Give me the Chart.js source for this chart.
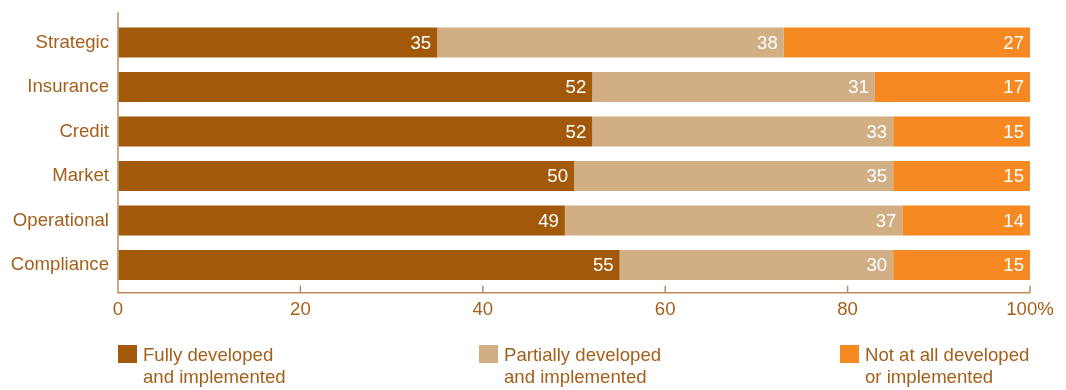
<!DOCTYPE html>
<html>
<head>
<meta charset="utf-8">
<script src="https://cdn.jsdelivr.net/npm/chart.js@4/dist/chart.umd.min.js"></script>
<style>
  body { margin: 0; background: #fff; }
  #wrap { position: relative; width: 1066px; height: 390px; }
  #legend { position: absolute; left: 0; top: 344px; width: 1066px; height: 46px; }
  .item { position: absolute; top: 0; font: 18.6px "Liberation Sans", Arial, sans-serif; line-height: 22px; color: #a4601a; }
  .box { position: absolute; left: 0; top: 1px; width: 19px; height: 18px; }
  .txt { position: absolute; left: 25px; top: 0; white-space: nowrap; }
</style>
</head>
<body>
<div id="wrap">
  <canvas id="myChart" width="1066" height="390"></canvas>
  <div id="legend"></div>
</div>
<script>
// データ
const categories = ['Strategic', 'Insurance', 'Credit', 'Market', 'Operational', 'Compliance'];
const seriesNames = [
  ['Fully developed', 'and implemented'],
  ['Partially developed', 'and implemented'],
  ['Not at all developed', 'or implemented']
];
const fully = [35, 52, 52, 50, 49, 55];
const partially = [38, 31, 33, 35, 37, 30];
const notAtAll = [27, 17, 15, 15, 14, 15];
const tickLabels = ['0', '20', '40', '60', '80', '100%'];

const colors = ['#a25a0a', '#d1ae84', '#f68922'];
const textColor = '#a4601a';
const axisColor = '#c0895a';
const fontFamily = '"Liberation Sans", Arial, sans-serif';
const fontSize = 18.6;

// 軸線と目盛り（内側向き）
const axisLines = {
  id: 'axisLines',
  afterDraw(chart) {
    const { ctx, chartArea, scales } = chart;
    const bottom = chartArea.bottom + 5.5;
    ctx.save();
    ctx.strokeStyle = axisColor;
    ctx.lineWidth = 1.5;
    ctx.beginPath();
    ctx.moveTo(chartArea.left, chartArea.top - 8);
    ctx.lineTo(chartArea.left, bottom);
    ctx.lineTo(scales.x.getPixelForValue(100), bottom);
    scales.x.ticks.forEach(t => {
      if (t.value === 0) return;
      const x = scales.x.getPixelForValue(t.value);
      ctx.moveTo(x, bottom);
      ctx.lineTo(x, bottom - 7);
    });
    ctx.stroke();
    ctx.restore();
  }
};

// 棒の右端に値を表示
const valueLabels = {
  id: 'valueLabels',
  afterDatasetsDraw(chart) {
    const { ctx } = chart;
    ctx.save();
    ctx.fillStyle = '#fff';
    ctx.font = fontSize + 'px ' + fontFamily;
    ctx.textAlign = 'right';
    ctx.textBaseline = 'middle';
    chart.data.datasets.forEach((ds, i) => {
      chart.getDatasetMeta(i).data.forEach((bar, j) => {
        ctx.fillText(String(ds.data[j]), bar.x - 6, bar.y + 1);
      });
    });
    ctx.restore();
  }
};

const datasets = [fully, partially, notAtAll].map((values, i) => ({
  label: seriesNames[i].join(' '),
  data: values,
  backgroundColor: colors[i],
  borderWidth: 0,
  barPercentage: 0.673,
  categoryPercentage: 1
}));

new Chart(document.getElementById('myChart'), {
  type: 'bar',
  data: { labels: categories, datasets: datasets },
  options: {
    indexAxis: 'y',
    responsive: false,
    animation: false,
    layout: { padding: { top: 19.7, right: 36, bottom: 0, left: 0 } },
    plugins: { legend: { display: false }, tooltip: { enabled: false } },
    scales: {
      x: {
        stacked: true,
        min: 0,
        max: 100,
        border: { display: false },
        grid: { display: true, drawOnChartArea: false, drawTicks: false, color: 'transparent' },
        ticks: {
          stepSize: 20,
          padding: 11,
          color: textColor,
          font: { size: fontSize, family: fontFamily },
          callback: (v, i) => tickLabels[i]
        },
        afterFit: s => { s.height = 102.7; }
      },
      y: {
        stacked: true,
        border: { display: false },
        grid: { display: true, drawOnChartArea: false, drawTicks: false, color: 'transparent' },
        ticks: { padding: 9, color: textColor, font: { size: fontSize, family: fontFamily } },
        afterFit: s => { s.width = 118; }
      }
    }
  },
  plugins: [axisLines, valueLabels]
});

// 凡例
const legendLeft = [118, 479, 840];
const legend = document.getElementById('legend');
seriesNames.forEach((lines, i) => {
  const item = document.createElement('div');
  item.className = 'item';
  item.style.left = legendLeft[i] + 'px';
  item.innerHTML = `<div class="box" style="background:${colors[i]}"></div>
    <div class="txt">${lines.join('<br>')}</div>`;
  legend.appendChild(item);
});
</script>
</body>
</html>
